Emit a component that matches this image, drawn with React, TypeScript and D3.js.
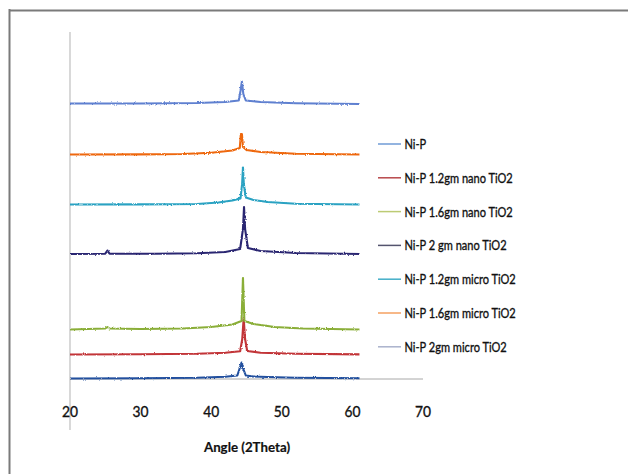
import React from "react";
import * as d3 from "d3";

// XRD patterns, intensity in arbitrary units (each trace stacked with its own offset)
const seriesNames = [
  "Ni-P",
  "Ni-P 1.2gm nano TiO2",
  "Ni-P 1.6gm nano TiO2",
  "Ni-P 2 gm nano TiO2",
  "Ni-P 1.2gm micro TiO2",
  "Ni-P 1.6gm micro TiO2",
  "Ni-P 2gm micro TiO2",
];

const niP: [number, number][] = [
  [20, 0.5], [30, 0.8], [38, 1.2], [42, 2.2], [43.7, 3.5], [44.05, 11], [44.3, 16.5],
  [44.55, 10], [44.9, 3.5], [46, 2.5], [48, 2], [52, 1.3], [61, 0.8],
];
const nano12: [number, number][] = [
  [20, 24.5], [30, 24.8], [38, 25.3], [42, 26.3], [44.1, 27.8], [44.4, 40], [44.6, 61],
  [44.8, 40], [45.1, 28], [47, 26.3], [52, 25.2], [61, 24.6],
];
const nano16: [number, number][] = [
  [20, 49.5], [25, 50.5], [25.3, 52], [25.6, 50.5], [30, 50], [36, 50.5], [40, 52],
  [43, 54.5], [44.3, 58], [44.5, 101], [44.7, 58], [46, 55], [49, 52], [53, 50.5], [61, 49.5],
];
const nano20: [number, number][] = [
  [20, 125], [25, 125.3], [25.3, 128.5], [25.6, 125.3], [32, 125.2], [38, 125.7], [42, 127],
  [44.1, 130], [44.5, 150], [44.65, 172], [44.8, 150], [45.2, 131], [47, 128], [52, 126], [61, 125],
];
const micro12: [number, number][] = [
  [20, 174.5], [30, 174.6], [38, 175], [41, 176.5], [43, 178.5], [44.15, 180.5], [44.38, 195],
  [44.5, 211.5], [44.62, 195], [44.9, 181.5], [46, 179], [48, 177], [52, 175.3], [61, 174.5],
];
const micro16: [number, number][] = [
  [20, 224.5], [30, 224.6], [36, 225], [40, 226.3], [43, 228.5], [44.05, 231], [44.2, 245],
  [44.35, 245], [44.5, 232], [45, 229], [47, 227], [52, 225.2], [61, 224.5],
];
const micro20: [number, number][] = [
  [20, 275.5], [30, 275.5], [38, 276], [42, 277], [43.9, 278.5], [44.15, 288], [44.35, 297.5],
  [44.55, 285], [44.9, 278.5], [47, 277], [52, 275.8], [61, 275],
];

const traces = [niP, nano12, nano16, nano20, micro12, micro16, micro20];
const traceColors = ["#22509e", "#c23438", "#8aae38", "#2c2872", "#2aa2c2", "#ee6810", "#5f80d0"];
const legendColors = ["#6f9bd6", "#b8474a", "#bccb74", "#54546e", "#43aec8", "#f5a060", "#aab2cc"];

const xTicks = [20, 30, 40, 50, 60, 70];

const W = 628;
const H = 474;
const plot = { left: 70, right: 423, top: 32, bottom: 379 };

// condensed text: regular face squeezed horizontally around its anchor
function Squeezed(props: {
  x: number;
  y: number;
  sx: number;
  anchor?: "start" | "middle";
  size: number;
  bold?: boolean;
  children: React.ReactNode;
}) {
  const { x, y, sx, anchor = "start", size, bold, children } = props;
  return (
    <text
      transform={`translate(${x},${y}) scale(${sx},1)`}
      textAnchor={anchor}
      fontFamily="Lato, 'Open Sans', sans-serif"
      fontSize={size}
      fontWeight={bold ? "bold" : "normal"}
      fill="#111"
      stroke="#111"
      strokeWidth={bold ? 0.2 : 0.35}
    >
      {children}
    </text>
  );
}

export default function App() {
  const x = d3.scaleLinear().domain([20, 70]).range([plot.left, plot.right]);
  const y = d3.scaleLinear().domain([0, 347]).range([plot.bottom, plot.top]);
  const line = d3
    .line<[number, number]>()
    .x((d) => x(d[0]))
    .y((d) => y(d[1]))
    .curve(d3.curveLinear);

  return (
    <svg
      width={W}
      height={H}
      style={{ position: "absolute", left: 0, top: 0, background: "#fff" }}
    >
      <defs>
        <filter id="grain" x="-5%" y="-50%" width="110%" height="200%">
          <feTurbulence type="fractalNoise" baseFrequency="1.1 0.7" numOctaves="2" seed="3" result="n" />
          <feDisplacementMap in="SourceGraphic" in2="n" scale="2.4" xChannelSelector="R" yChannelSelector="G" />
        </filter>
      </defs>

      {/* outer frame */}
      <line x1={9.5} y1={9} x2={9.5} y2={H} stroke="#7a7a7a" strokeWidth={2} />
      <line x1={9} y1={10.5} x2={W} y2={10.5} stroke="#7a7a7a" strokeWidth={2} />

      {/* axes */}
      <line x1={plot.left} y1={plot.top} x2={plot.left} y2={430} stroke="#c4c4c4" strokeWidth={1.3} />
      <line x1={plot.left} y1={plot.bottom} x2={plot.right} y2={plot.bottom} stroke="#a8a8a8" strokeWidth={1} />

      {/* traces */}
      <g filter="url(#grain)">
        {traces.map((t, i) => (
          <path key={i} d={line(t) ?? ""} fill="none" stroke={traceColors[i]} strokeWidth={2.1} strokeLinejoin="round" />
        ))}
      </g>

      {/* x tick labels */}
      {xTicks.map((t) => (
        <Squeezed key={t} x={x(t)} y={417} sx={0.92} anchor="middle" size={15}>
          {t}
        </Squeezed>
      ))}
      <Squeezed x={247} y={452} sx={0.95} anchor="middle" size={14} bold>
        Angle (2Theta)
      </Squeezed>

      {/* legend */}
      {seriesNames.map((name, i) => {
        const ly = 144 + i * 33.8;
        return (
          <g key={name}>
            <line x1={378} x2={401} y1={ly} y2={ly} stroke={legendColors[i]} strokeWidth={1.5} />
            <Squeezed x={404.5} y={ly + 5} sx={0.79} size={14}>
              {name}
            </Squeezed>
          </g>
        );
      })}
    </svg>
  );
}
